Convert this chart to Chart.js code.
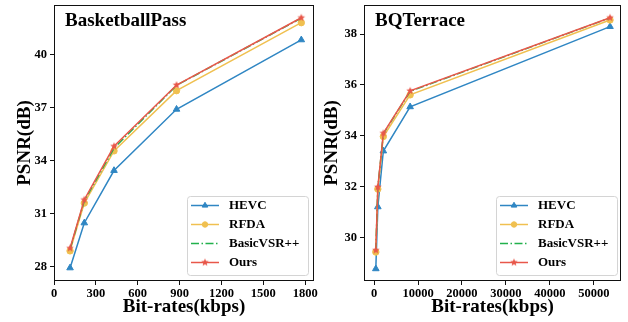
<!DOCTYPE html>
<html><head><meta charset="utf-8">
<script src="https://cdn.jsdelivr.net/npm/chart.js@4"></script>
<style>
html,body{margin:0;padding:0;background:#fff;width:628px;height:322px;overflow:hidden}
canvas{position:absolute;top:0}
</style></head>
<body>
<canvas id="c1" width="320" height="322" style="left:0;width:320px;height:322px"></canvas>
<canvas id="c2" width="308" height="322" style="left:320px;width:308px;height:322px"></canvas>
<script>
// ---- data ----
const seriesNames = ['HEVC', 'RFDA', 'BasicVSR++', 'Ours'];

const bpTitle = 'BasketballPass';
const bpRates = [115, 217, 430, 878, 1772];
const bpHEVC = [27.94, 30.48, 33.44, 36.90, 40.82];
const bpRFDA = [28.90, 31.60, 34.55, 37.95, 41.79];
const bpBasicVSR = [29.00, 31.72, 34.70, 38.25, 42.05];
const bpOurs = [29.05, 31.79, 34.81, 38.27, 42.07];
const bpXTicks = [0, 300, 600, 900, 1200, 1500, 1800];
const bpYTicks = [28, 31, 34, 37, 40];

const bqTitle = 'BQTerrace';
const bqRates = [390, 850, 2100, 8200, 53700];
const bqHEVC = [28.76, 31.20, 33.40, 35.14, 38.30];
const bqRFDA = [29.42, 31.90, 33.97, 35.61, 38.56];
const bqBasicVSR = [29.47, 31.96, 34.08, 35.75, 38.64];
const bqOurs = [29.49, 31.98, 34.10, 35.77, 38.65];
const bqXTicks = [0, 10000, 20000, 30000, 40000, 50000];
const bqYTicks = [30, 32, 34, 36, 38];

const xTitle = 'Bit-rates(kbps)';
const yTitle = 'PSNR(dB)';

// ---- styles ----
const FONT = "'Liberation Serif', 'Times New Roman', serif";
const colors = ['#2f86c3', '#f0c050', '#22b14c', '#e8574a'];

function makeStar(color, r) {
  const s = Math.ceil(r * 2 + 2);
  const c = document.createElement('canvas');
  c.width = s; c.height = s;
  const g = c.getContext('2d');
  g.fillStyle = color;
  g.beginPath();
  for (let k = 0; k < 10; k++) {
    const rad = k % 2 ? r * 0.45 : r;
    const a = -Math.PI / 2 + k * Math.PI / 5;
    g.lineTo(s / 2 + rad * Math.cos(a), s / 2 + rad * Math.sin(a));
  }
  g.closePath();
  g.fill();
  return c;
}
const starImg = makeStar(colors[3], 4);

const pointStyles = ['triangle', 'circle', false, starImg];
const pointRadii = [3.8, 3.2, 0, 4];
const dashes = [[], [], [8, 2.5, 1.5, 2.5], []];
const orders = [3, 2, 1, 0];

const framePlugin = {
  id: 'frame',
  afterDraw(chart, args, opts) {
    const {ctx, chartArea: a} = chart;
    ctx.save();
    ctx.strokeStyle = '#111';
    ctx.lineWidth = 1;
    ctx.strokeRect(Math.round(a.left) + 0.5, Math.round(a.top) + 0.5,
      Math.round(a.right - a.left) - 1, Math.round(a.bottom - a.top) - 1);
    // panel title
    ctx.fillStyle = '#000';
    ctx.font = "bold 19px " + FONT;
    ctx.textBaseline = 'middle';
    ctx.textAlign = 'left';
    ctx.fillText(opts.title, a.left + opts.titleDx, a.top + 16);
    // legend
    const bw = 121, bh = 79;
    const bx = a.right - 6 - bw + opts.legDx, by = a.bottom - 6 - bh;
    ctx.beginPath();
    ctx.roundRect(bx + 0.5, by + 0.5, bw, bh, 3);
    ctx.fillStyle = 'rgba(255,255,255,0.85)';
    ctx.fill();
    ctx.strokeStyle = '#d4d4d4';
    ctx.stroke();
    chart.data.datasets.forEach((ds, i) => {
      const y = by + 9.5 + i * 19;
      ctx.save();
      ctx.strokeStyle = ds.borderColor;
      ctx.lineWidth = 1.5;
      ctx.setLineDash(ds.borderDash || []);
      ctx.beginPath();
      ctx.moveTo(bx + 4, y);
      ctx.lineTo(bx + 32, y);
      ctx.stroke();
      ctx.restore();
      if (ds.pointStyle) {
        ctx.save();
        ctx.fillStyle = ds.pointBackgroundColor;
        ctx.strokeStyle = ds.pointBorderColor;
        ctx.lineWidth = 1;
        ctx.setLineDash([]);
        Chart.helpers.drawPoint(ctx, {
          pointStyle: ds.pointStyle, radius: ds.pointRadius * 0.85, rotation: 0, borderWidth: 1
        }, bx + 18, y);
        ctx.restore();
      }
      ctx.fillStyle = '#000';
      ctx.font = "bold 13px " + FONT;
      ctx.textBaseline = 'middle';
      ctx.textAlign = 'left';
      ctx.fillText(ds.label, bx + 42, y + 0.5);
    });
    ctx.restore();
  }
};

function makePanel(id, cfg) {
  const series = [cfg.hevc, cfg.rfda, cfg.basic, cfg.ours];
  const datasets = series.map((vals, i) => ({
    label: seriesNames[i],
    data: cfg.rates.map((x, k) => ({x: x, y: vals[k]})),
    borderColor: colors[i],
    backgroundColor: colors[i],
    pointBackgroundColor: colors[i],
    pointBorderColor: colors[i],
    borderWidth: 1.5,
    borderDash: dashes[i],
    pointStyle: pointStyles[i],
    pointRadius: pointRadii[i],
    pointBorderWidth: 1,
    tension: 0,
    order: orders[i],
    clip: false
  }));
  const tickFont = {family: FONT, size: 12.5, weight: 'bold'};
  const titleFont = {family: FONT, size: 19, weight: 'bold'};
  const zeroPad = s => { s.paddingTop = 0; s.paddingBottom = 0; s.paddingLeft = 0; s.paddingRight = 0; };
  return new Chart(document.getElementById(id), {
    type: 'line',
    data: {datasets},
    plugins: [framePlugin],
    options: {
      responsive: false,
      animation: false,
      devicePixelRatio: 1,
      layout: {padding: {left: 0, top: 4, right: cfg.rightPad, bottom: 0}},
      plugins: {
        legend: {display: false},
        tooltip: {enabled: false},
        frame: {title: cfg.title, titleDx: cfg.titleDx, legDx: cfg.legDx}
      },
      scales: {
        x: {
          type: 'linear',
          min: cfg.xmin, max: cfg.xmax,
          afterBuildTicks: s => { s.ticks = cfg.xticks.map(v => ({value: v})); },
          afterFit: s => { s.height = 41; zeroPad(s); },
          grid: {drawOnChartArea: false, drawTicks: true, tickLength: 4, color: '#111', tickWidth: 1},
          border: {display: false},
          ticks: {font: tickFont, color: '#000', padding: 1, maxRotation: 0, autoSkip: false, callback: v => String(v)},
          title: {display: true, text: xTitle, font: titleFont, color: '#000', padding: {top: 0, bottom: 4}}
        },
        y: {
          type: 'linear',
          min: cfg.ymin, max: cfg.ymax,
          afterBuildTicks: s => { s.ticks = cfg.yticks.map(v => ({value: v})); },
          afterFit: s => { s.width = cfg.yWidth; zeroPad(s); },
          grid: {drawOnChartArea: false, drawTicks: true, tickLength: 4, color: '#111', tickWidth: 1},
          border: {display: false},
          ticks: {font: tickFont, color: '#000', padding: 3, autoSkip: false, callback: v => String(v)},
          title: {display: true, text: yTitle, font: titleFont, color: '#000', padding: {top: cfg.yTitlePad, bottom: 0}}
        }
      }
    }
  });
}

makePanel('c1', {
  title: bpTitle, rates: bpRates, hevc: bpHEVC, rfda: bpRFDA, basic: bpBasicVSR, ours: bpOurs,
  xticks: bpXTicks, yticks: bpYTicks,
  xmin: 0, xmax: 1863, ymin: 27.2, ymax: 42.79,
  yWidth: 54, rightPad: 6, yTitlePad: 13.5, titleDx: 11, legDx: 0
});
makePanel('c2', {
  title: bqTitle, rates: bqRates, hevc: bqHEVC, rfda: bqRFDA, basic: bqBasicVSR, ours: bqOurs,
  xticks: bqXTicks, yticks: bqYTicks,
  xmin: -2300, xmax: 56200, ymin: 28.28, ymax: 39.15,
  yWidth: 44, rightPad: 7, yTitlePad: 0.5, titleDx: 11, legDx: 2
});
</script>
</body></html>
